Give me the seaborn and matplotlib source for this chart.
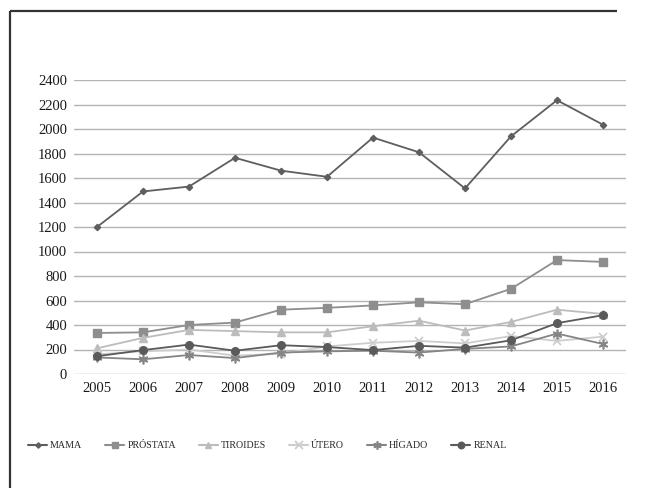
import matplotlib
matplotlib.use("Agg")
import matplotlib.pyplot as plt
import seaborn as sns
import pandas as pd
from matplotlib.lines import Line2D

years = [2005, 2006, 2007, 2008, 2009, 2010, 2011, 2012, 2013, 2014, 2015, 2016]

mama = [1200, 1490, 1530, 1765, 1660, 1610, 1930, 1810, 1515, 1940, 2235, 2035]
prostata = [335, 340, 400, 420, 525, 540, 560, 585, 570, 695, 930, 915]
tiroides = [210, 295, 360, 350, 340, 340, 390, 435, 355, 425, 525, 490]
utero = [160, 185, 200, 150, 165, 225, 255, 270, 250, 310, 270, 305]
higado = [135, 120, 155, 130, 175, 185, 190, 175, 205, 225, 330, 245]
renal = [145, 195, 240, 190, 235, 220, 195, 230, 215, 275, 415, 480]

series_names = ["MAMA", "PRÓSTATA", "TIROIDES", "ÚTERO", "HÍGADO", "RENAL"]
series_values = [mama, prostata, tiroides, utero, higado, renal]

colors = ["#5e5e5e", "#8e8e8e", "#bcbcbc", "#cdcdcd", "#858585", "#5a5a5a"]
markers = ["D", "s", "^", "x", (6, 2, 0), "o"]
msizes = [3.2, 5.5, 5.5, 6, 7, 5.5]
mews = [1.0, 1.0, 1.0, 1.3, 1.2, 1.0]

sns.set_theme(style="white")
plt.rcParams["font.family"] = ["Liberation Serif", "DejaVu Serif"]

fig = plt.figure(figsize=(6.49, 4.88), dpi=100)
ax = fig.add_axes([74 / 649, 1 - 374 / 488, (626 - 74) / 649, (374 - 80) / 488])

for name, vals, c, m, ms, mew in zip(series_names, series_values, colors, markers, msizes, mews):
    df = pd.DataFrame({"year": years, "value": vals})
    sns.lineplot(data=df, x="year", y="value", ax=ax, color=c, marker=m,
                 markersize=ms, markeredgewidth=mew, markeredgecolor=c,
                 linewidth=1.3, label=name, legend=False)

ax.set_xlim(2004.5, 2016.5)
ax.set_ylim(0, 2400)
ax.set_yticks(range(0, 2401, 200))
ax.set_xticks(years)
ax.set_xticklabels([str(y) for y in years])
ax.set_xlabel("")
ax.set_ylabel("")
ax.yaxis.grid(True, color="#b3b3b3", linewidth=1.0)
ax.xaxis.grid(False)
ax.set_axisbelow(True)
for s in ax.spines.values():
    s.set_visible(False)
ax.tick_params(axis="both", length=0, labelsize=10.5, colors="#1a1a1a")
ax.tick_params(axis="y", pad=5)
ax.tick_params(axis="x", pad=6)

handles = [Line2D([], [], color=c, marker=m, markersize=ms * 0.85, markeredgewidth=mew,
                  markeredgecolor=c, linewidth=1.5)
           for c, m, ms, mew in zip(colors, markers, msizes, mews)]
fig.legend(handles, series_names, loc="center left", bbox_to_anchor=(28 / 649, 1 - 446 / 488),
           ncol=6, frameon=False, fontsize=7.2, handlelength=1.9, handletextpad=0.3,
           columnspacing=2.3, borderaxespad=0, borderpad=0)

# outer frame: top and left edges
x0, y0 = 9.5 / 649, 1 - 10.5 / 488
fig.add_artist(Line2D([x0, 0.95], [y0, y0], transform=fig.transFigure,
                      color="#333333", linewidth=1.6, solid_capstyle="butt"))
fig.add_artist(Line2D([x0, x0], [0.0, y0], transform=fig.transFigure,
                      color="#333333", linewidth=1.6, solid_capstyle="butt"))

fig.savefig("out.png", dpi=100, facecolor="white", edgecolor="white")
